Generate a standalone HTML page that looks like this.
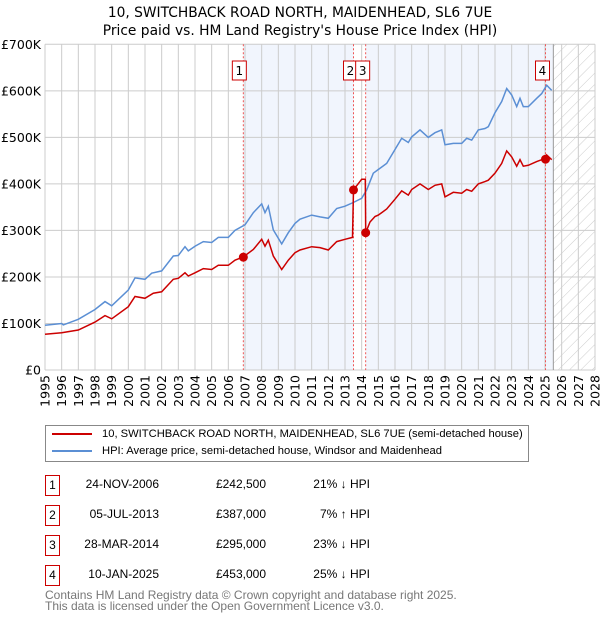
<!DOCTYPE html>
<html><head><meta charset="utf-8"><style>
body{margin:0;background:#fff;font-family:"Liberation Sans","DejaVu Sans",sans-serif;}
#wrap{position:relative;width:600px;height:620px;overflow:hidden;}
svg text{font-family:"DejaVu Sans","Liberation Sans",sans-serif;}
.tx{font-family:"Liberation Sans","DejaVu Sans",sans-serif;font-size:12px;}
</style></head><body>
<div id="wrap">
<svg id="chart" width="600" height="620"></svg>
</div>
<script>
const hpiYears=[1995,1996,1996.1,1997,1998,1998.6,1999,2000,2000.4,2001,2001.4,2002,2002.7,2003,2003.4,2003.6,2004,2004.5,2005,2005.4,2006,2006.4,2007,2007.5,2008,2008.2,2008.4,2008.7,2009.2,2009.6,2010,2010.3,2011,2011.5,2012,2012.5,2013,2013.5,2014,2014.3,2014.7,2015,2015.5,2016,2016.4,2016.8,2017,2017.5,2018,2018.4,2018.8,2019,2019.5,2020,2020.3,2020.6,2021,2021.4,2021.6,2022,2022.4,2022.7,2023,2023.3,2023.5,2023.7,2024,2024.5,2024.8,2025.1,2025.4];
const hpiValues=[96,100,97,109,130,147,138,172,198,195,208,213,245,246,265,256,266,276,274,285,285,300,312,338,357,338,352,301,271,295,315,324,333,329,326,347,352,360,369,387,423,431,444,474,498,489,501,516,500,510,516,484,487,487,498,494,516,519,523,553,577,605,591,566,584,566,566,584,594,612,601];
const ppYears=[1995,1996,1997,1998,1998.6,1999,2000,2000.4,2001,2001.5,2002,2002.7,2003,2003.4,2003.6,2004,2004.5,2005,2005.4,2006,2006.4,2006.9,2007.5,2008,2008.2,2008.4,2008.7,2009.2,2009.6,2010,2010.3,2011,2011.5,2012,2012.5,2013,2013.45,2013.51,2014.0,2014.22,2014.24,2014.5,2014.8,2015,2015.5,2016,2016.4,2016.8,2017,2017.5,2018,2018.4,2018.8,2019,2019.5,2020,2020.3,2020.6,2021,2021.4,2021.6,2022,2022.4,2022.7,2023,2023.3,2023.5,2023.7,2024,2024.5,2024.8,2025.03,2025.1,2025.4];
const ppValues=[77,80,86,103,117,110,136,158,154,165,168,195,197,209,202,209,218,216,225,225,236,243,259,281,266,279,245,216,236,252,258,265,263,258,276,281,285,387,410,410,295,318,330,333,346,367,385,376,388,400,388,397,400,372,382,380,388,384,400,405,408,423,444,471,458,438,452,438,440,448,452,453,462,452];
const saleYears=[2006.9,2013.51,2014.24,2025.03];
const saleValues=[242.5,387,295,453];
const saleLabels=["1","2","3","4"];
const yTicks=[0,100,200,300,400,500,600,700];
const yTickLabels=["£0","£100K","£200K","£300K","£400K","£500K","£600K","£700K"];
const xTicks=[1995,1996,1997,1998,1999,2000,2001,2002,2003,2004,2005,2006,2007,2008,2009,2010,2011,2012,2013,2014,2015,2016,2017,2018,2019,2020,2021,2022,2023,2024,2025,2026,2027,2028];
const dataEnd=2025.5;

const NS="http://www.w3.org/2000/svg";
const svg=document.getElementById('chart');
const L=45,R=595,T=44.3,B=370;
const X=y=>L+(y-1995)*(R-L)/33;
const Y=v=>B-v*(B-T)/700;
function el(tag,attrs,parent){const e=document.createElementNS(NS,tag);for(const k in attrs)e.setAttribute(k,attrs[k]);(parent||svg).appendChild(e);return e;}

const defs=el('defs',{});
const pat=el('pattern',{id:'hatch',width:8,height:8,patternUnits:'userSpaceOnUse',patternTransform:'rotate(45)'},defs);
el('line',{x1:0,y1:0,x2:0,y2:8,stroke:'#ccc','stroke-width':1},pat);

let t=el('text',{x:300,y:17,'text-anchor':'middle','font-size':13.8,fill:'#000'});t.textContent='10, SWITCHBACK ROAD NORTH, MAIDENHEAD, SL6 7UE';

t=el('text',{x:300,y:35,'text-anchor':'middle','font-size':13.8,fill:'#000'});t.textContent="Price paid vs. HM Land Registry's House Price Index (HPI)";


let r=el('rect',{x:X(saleYears[0]),y:T,width:X(saleYears[1])-X(saleYears[0]),height:B-T,fill:'#eef2fc',opacity:0.8});

r=el('rect',{x:X(saleYears[2]),y:T,width:X(dataEnd)-X(saleYears[2]),height:B-T,fill:'#eef2fc',opacity:0.8});

r=el('rect',{x:X(dataEnd),y:T,width:R-X(dataEnd),height:B-T,fill:'url(#hatch)'});


xTicks.forEach((yr,i)=>{
 const g=el('line',{x1:X(yr),y1:T,x2:X(yr),y2:B,stroke:'#ccc','stroke-width':1});
 
 const tx=el('text',{x:0,y:0,'font-size':12.5,fill:'#000','text-anchor':'end',transform:`translate(${X(yr)+4.5},375) rotate(-90)`});
 tx.textContent=String(yr);
 
});
yTicks.forEach((v,i)=>{
 const g=el('line',{x1:L,y1:Y(v),x2:R,y2:Y(v),stroke:'#ccc','stroke-width':1});
 
 const tx=el('text',{x:41,y:Y(v)+4.5,'font-size':12.5,fill:'#000','text-anchor':'end'});
 tx.textContent=yTickLabels[i];
 
});
let dl=el('line',{x1:X(dataEnd),y1:T,x2:X(dataEnd),y2:B,stroke:'#999','stroke-width':1});


saleYears.forEach((yr,i)=>{
 const l=el('line',{x1:X(yr),y1:T,x2:X(yr),y2:B,stroke:'#e55','stroke-width':1,'stroke-dasharray':'2,2'});
 
});

function path(xs,vs){return xs.map((x,i)=>(i?'L':'M')+X(x).toFixed(1)+','+Y(vs[i]).toFixed(1)).join('');}
let p=el('path',{d:path(hpiYears,hpiValues),fill:'none',stroke:'#5b8fd4','stroke-width':1.5});

p=el('path',{d:path(ppYears,ppValues),fill:'none',stroke:'#cc0000','stroke-width':1.5});


saleYears.forEach((yr,i)=>{
 const c=el('circle',{cx:X(yr),cy:Y(saleValues[i]),r:4.5,fill:'#cc0000'});
 
});
const boxShift=[-11,-10,-10,-10];
saleLabels.forEach((s,i)=>{
 const bx=X(saleYears[i])+boxShift[i];
 const b=el('rect',{x:bx,y:61,width:14,height:19,fill:'#fff',stroke:'#cc0000','stroke-width':1});
 
 const tx=el('text',{x:bx+7,y:75,'font-size':12,'text-anchor':'middle',fill:'#000'});
 tx.textContent=s;
 
});
</script>
<div class="tx" style="position:absolute;left:45px;top:425px;width:482px;height:35px;border:1px solid #888;font-size:11.2px;">
 <div style="position:absolute;left:6px;top:2px;white-space:nowrap;"><span style="display:inline-block;width:40px;height:2px;background:#cc0000;vertical-align:middle;margin-right:10px;"></span>10, SWITCHBACK ROAD NORTH, MAIDENHEAD, SL6 7UE (semi-detached house)</div>
 <div style="position:absolute;left:6px;top:19px;white-space:nowrap;"><span style="display:inline-block;width:40px;height:2px;background:#5b8fd4;vertical-align:middle;margin-right:10px;"></span>HPI: Average price, semi-detached house, Windsor and Maidenhead</div>
</div>
<div class="tx" style="position:absolute;left:0;top:0;">
 <div>
  <div style="position:absolute;left:45px;top:475px;width:13px;height:19px;border:1px solid #cc0000;text-align:center;line-height:19px;">1</div>
  <div style="position:absolute;left:60px;width:99px;top:477px;text-align:right;">24-NOV-2006</div>
  <div style="position:absolute;left:170px;width:96px;top:477px;text-align:right;">£242,500</div>
  <div style="position:absolute;left:280px;width:90px;top:477px;text-align:right;">21% ↓ HPI</div>
 </div>
 <div>
  <div style="position:absolute;left:45px;top:505px;width:13px;height:19px;border:1px solid #cc0000;text-align:center;line-height:19px;">2</div>
  <div style="position:absolute;left:60px;width:99px;top:507px;text-align:right;">05-JUL-2013</div>
  <div style="position:absolute;left:170px;width:96px;top:507px;text-align:right;">£387,000</div>
  <div style="position:absolute;left:280px;width:90px;top:507px;text-align:right;">7% ↑ HPI</div>
 </div>
 <div>
  <div style="position:absolute;left:45px;top:535px;width:13px;height:19px;border:1px solid #cc0000;text-align:center;line-height:19px;">3</div>
  <div style="position:absolute;left:60px;width:99px;top:537px;text-align:right;">28-MAR-2014</div>
  <div style="position:absolute;left:170px;width:96px;top:537px;text-align:right;">£295,000</div>
  <div style="position:absolute;left:280px;width:90px;top:537px;text-align:right;">23% ↓ HPI</div>
 </div>
 <div>
  <div style="position:absolute;left:45px;top:565px;width:13px;height:19px;border:1px solid #cc0000;text-align:center;line-height:19px;">4</div>
  <div style="position:absolute;left:60px;width:99px;top:567px;text-align:right;">10-JAN-2025</div>
  <div style="position:absolute;left:170px;width:96px;top:567px;text-align:right;">£453,000</div>
  <div style="position:absolute;left:280px;width:90px;top:567px;text-align:right;">25% ↓ HPI</div>
 </div>
</div>
<div class="tx" style="position:absolute;left:45px;top:590px;line-height:11px;color:#777;">Contains HM Land Registry data © Crown copyright and database right 2025.<br>This data is licensed under the Open Government Licence v3.0.</div>
</body></html>
